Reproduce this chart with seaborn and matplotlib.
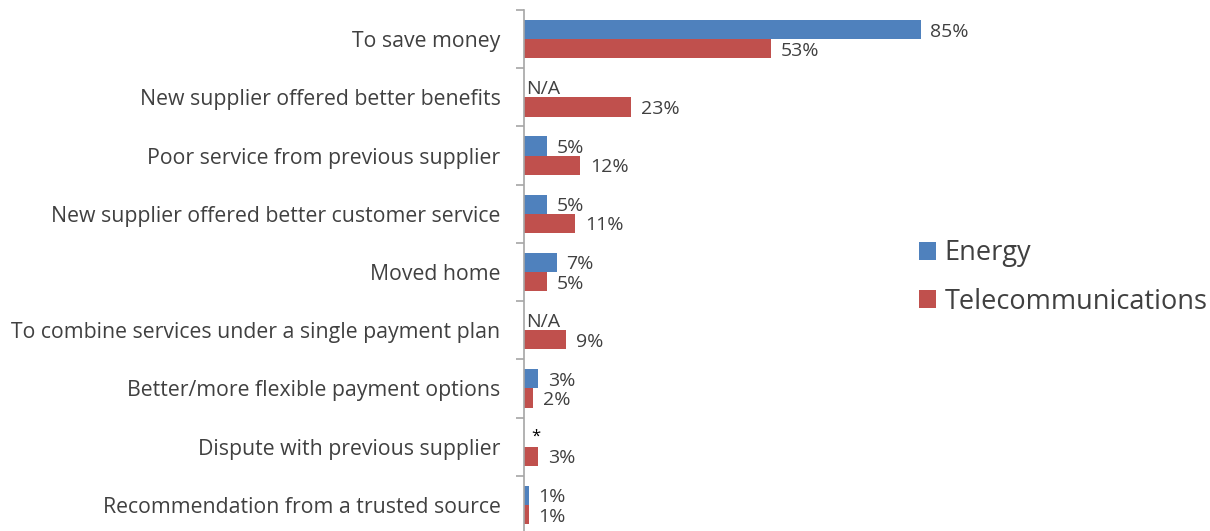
import matplotlib
matplotlib.use("Agg")
import matplotlib.pyplot as plt
import numpy as np
import pandas as pd
import seaborn as sns

reasons = [
    "To save money",
    "New supplier offered better benefits",
    "Poor service from previous supplier",
    "New supplier offered better customer service",
    "Moved home",
    "To combine services under a single payment plan",
    "Better/more flexible payment options",
    "Dispute with previous supplier",
    "Recommendation from a trusted source",
]
series = ["Energy", "Telecommunications"]
energy = [85, np.nan, 5, 5, 7, np.nan, 3, np.nan, 1]
energy_labels = ["85%", "N/A", "5%", "5%", "7%", "N/A", "3%", "*", "1%"]
telecom = [53, 23, 12, 11, 5, 9, 2, 3, 1]
telecom_labels = ["53%", "23%", "12%", "11%", "5%", "9%", "2%", "3%", "1%"]

colors = ["#4F81BD", "#C0504D"]
text_color = "#404040"
axis_color = "#A6A6A6"

sns.set_style("white")
plt.rcParams["font.family"] = ["Open Sans", "DejaVu Sans"]

df = pd.DataFrame({
    "reason": reasons * 2,
    "series": [series[0]] * len(reasons) + [series[1]] * len(reasons),
    "value": list(np.nan_to_num(energy, nan=0.0)) + telecom,
})

W, H = 1210, 531
fig = plt.figure(figsize=(W / 100, H / 100), dpi=100)
ax = fig.add_axes([524 / W, 1 - 534 / H, 420 / W, 524 / H])

sns.barplot(data=df, y="reason", x="value", hue="series", order=reasons,
            hue_order=series, palette=colors, orient="h", width=0.66,
            saturation=1, linewidth=0, ax=ax, legend=True)

ax.set_xlim(0, 90)
ax.set_ylim(len(reasons) - 0.5, -0.5)

# value labels at the end of each bar
for cont, labels in zip(ax.containers, [energy_labels, telecom_labels]):
    for patch, lab in zip(cont.patches, labels):
        w = patch.get_width()
        yc = patch.get_y() + patch.get_height() / 2
        if lab == "N/A":
            ax.annotate(lab, (0, yc), xytext=(1.5, -1), textcoords="offset points",
                        ha="left", va="center", fontsize=14, color=text_color)
        elif lab == "*":
            ax.annotate(lab, (0, yc), xytext=(5, 0), textcoords="offset points",
                        ha="left", va="center", fontsize=12, color="black")
        else:
            ax.annotate(lab, (w, yc), xytext=(7, -1.5), textcoords="offset points",
                        ha="left", va="center", fontsize=14, color=text_color)

# axes styling
for side in ["top", "right", "bottom"]:
    ax.spines[side].set_visible(False)
ax.spines["left"].set_color(axis_color)
ax.spines["left"].set_linewidth(1.2)
ax.set_xlabel("")
ax.set_ylabel("")
ax.set_xticks([])
ax.set_yticks(np.arange(len(reasons)))
ax.set_yticklabels(reasons)
ax.set_yticks(np.arange(-0.5, len(reasons)), minor=True)
ax.tick_params(axis="y", which="major", length=0, pad=17, labelsize=15.3,
               labelcolor=text_color)
ax.tick_params(axis="y", which="minor", length=6, width=1.2, color=axis_color,
               left=True)

handles, labels = ax.get_legend_handles_labels()
ax.get_legend().remove()
fig.legend(handles, labels, loc="center left",
           bbox_to_anchor=(895 / W, 1 - 277.5 / H), frameon=False,
           fontsize=19.5, labelcolor=text_color, handlelength=0.63,
           handleheight=0.63, handletextpad=0.3, labelspacing=0.76)

fig.savefig("out.png", dpi=100)
